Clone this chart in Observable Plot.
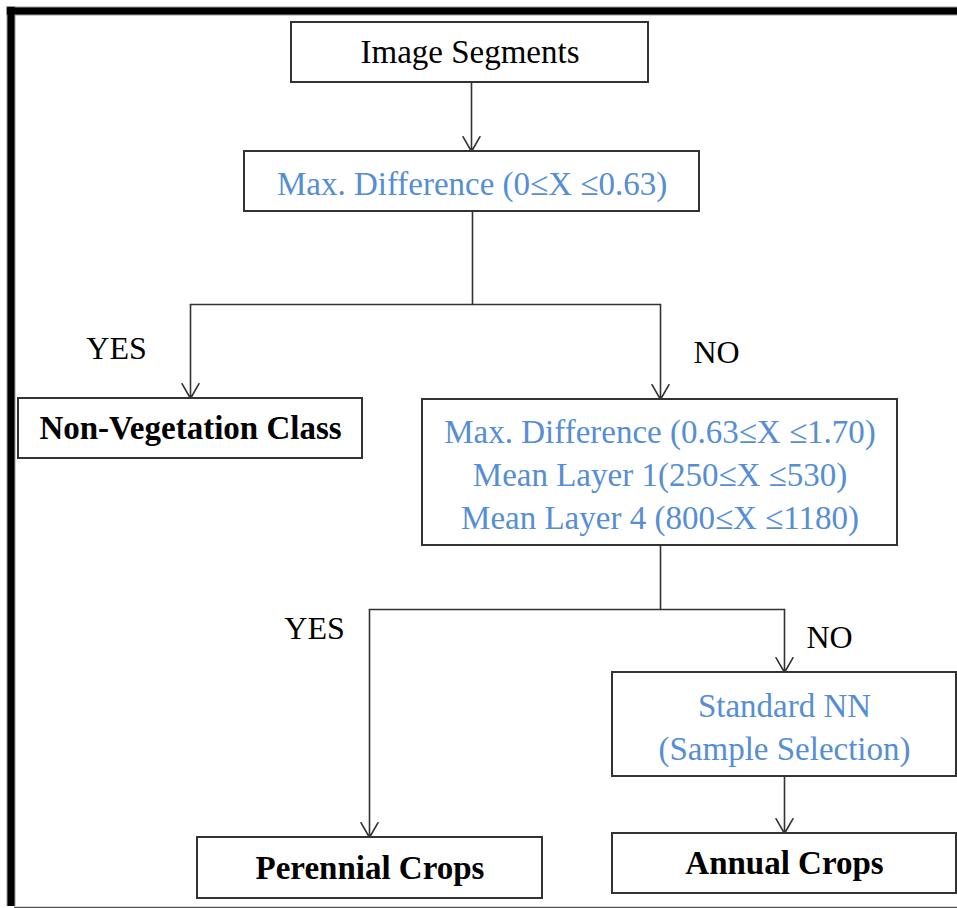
<!DOCTYPE html>
<html><head><meta charset="utf-8">
<script src="https://cdn.jsdelivr.net/npm/d3@7"></script>
<script src="https://cdn.jsdelivr.net/npm/@observablehq/plot@0.6"></script>
<style>body{margin:0;background:#fff}svg{display:block}</style>
</head><body><div id="chart"></div>
<script>
// Nodes of the decision tree
const nodeText = [
  "Image Segments",
  "Max. Difference (0≤X ≤0.63)",
  "Non-Vegetation Class",
  "Max. Difference (0.63≤X ≤1.70)\nMean Layer 1(250≤X ≤530)\nMean Layer 4 (800≤X ≤1180)",
  "Perennial Crops",
  "Standard NN\n(Sample Selection)",
  "Annual Crops"
];
const nodeKind = ["plain", "rule", "class", "rule", "class", "rule", "class"];
const nodeLeft   = [291, 244,  18, 422, 197, 612, 612];
const nodeRight  = [648, 699, 362, 897, 542, 956, 956];
const nodeTop    = [ 22, 151, 398, 399, 837, 672, 833];
const nodeBottom = [ 82, 211, 458, 545, 898, 776, 893];

// Connectors (polylines), last segment carries the arrow head
const linkId = [0, 1, 1, 1, 2, 2, 3, 3, 3, 4, 4, 5];
const linkX  = [471, 472, 472, 190, 472, 660, 660, 660, 369, 660, 784, 784];
const linkY  = [ 82, 211, 304, 304, 304, 304, 545, 609, 609, 609, 609, 776];
const arrowX1 = [471, 190, 660, 369, 784, 784];
const arrowY1 = [ 82, 304, 304, 609, 609, 776];
const arrowY2 = [151, 398, 399, 837, 672, 833];

// Branch labels
const branchText = ["YES", "NO", "YES", "NO"];
const branchX = [116, 716, 314, 829];
const branchY = [348, 352, 628, 637];

const nodes = nodeText.map((t, i) => ({
  text: t, kind: nodeKind[i],
  x1: nodeLeft[i], x2: nodeRight[i], y1: nodeTop[i], y2: nodeBottom[i],
  cx: (nodeLeft[i] + nodeRight[i]) / 2, cy: (nodeTop[i] + nodeBottom[i]) / 2
}));
const links = linkId.map((id, i) => ({id, x: linkX[i], y: linkY[i]}));
const arrows = arrowX1.map((x, i) => ({x, y1: arrowY1[i], y2: arrowY2[i]}));
const branches = branchText.map((t, i) => ({text: t, x: branchX[i], y: branchY[i]}));

const W = 957, H = 908;
const font = "Liberation Serif, Times New Roman, serif";
const blue = "#558ED5";
const ink = "#333";

const chart = Plot.plot({
  width: W, height: H, margin: 0,
  x: {domain: [0, W], range: [0, W], axis: null},
  y: {domain: [0, H], range: [0, H], axis: null},
  style: {background: "#fff", fontFamily: font},
  marks: [
    // outer frame
    Plot.ruleY([10.5], {x1: 6, x2: W, stroke: "#9a9a9a", strokeWidth: 9}),
    Plot.ruleX([10.5], {y1: 6, y2: 906, stroke: "#9a9a9a", strokeWidth: 9}),
    Plot.ruleY([10.5], {x1: 7, x2: W, stroke: "#000", strokeWidth: 7}),
    Plot.ruleX([10.5], {y1: 7, y2: 906, stroke: "#000", strokeWidth: 7}),
    Plot.ruleY([907], {x1: 14, x2: W, stroke: "#555", strokeWidth: 1.5}),
    // connectors
    Plot.line(links, {x: "x", y: "y", z: "id", stroke: ink, strokeWidth: 1.6, curve: "linear"}),
    Plot.arrow(arrows, {x1: "x", x2: "x", y1: "y1", y2: "y2", stroke: ink, strokeWidth: 1.6,
      headLength: 16, headAngle: 60, insetStart: 0, insetEnd: 0}),
    // boxes
    Plot.rect(nodes, {x1: "x1", x2: "x2", y1: "y1", y2: "y2", fill: "#fff", stroke: ink, strokeWidth: 2}),
    // box texts
    Plot.text(nodes.filter(d => d.kind === "plain"), {x: "cx", y: "cy", text: "text",
      fill: "#000", fontSize: 33, fontFamily: font}),
    Plot.text(nodes.filter(d => d.kind === "rule"), {x: "cx", y: "cy", text: "text",
      fill: blue, fontSize: 33, lineHeight: 1.3, fontFamily: font}),
    Plot.text(nodes.filter(d => d.kind === "class"), {x: "cx", y: "cy", text: "text",
      fill: "#000", fontSize: 33, fontWeight: "bold", fontFamily: font}),
    // branch labels
    Plot.text(branches, {x: "x", y: "y", text: "text", fill: "#000", fontSize: 32, fontFamily: font})
  ]
});
document.getElementById("chart").append(chart);
</script>
</body></html>
